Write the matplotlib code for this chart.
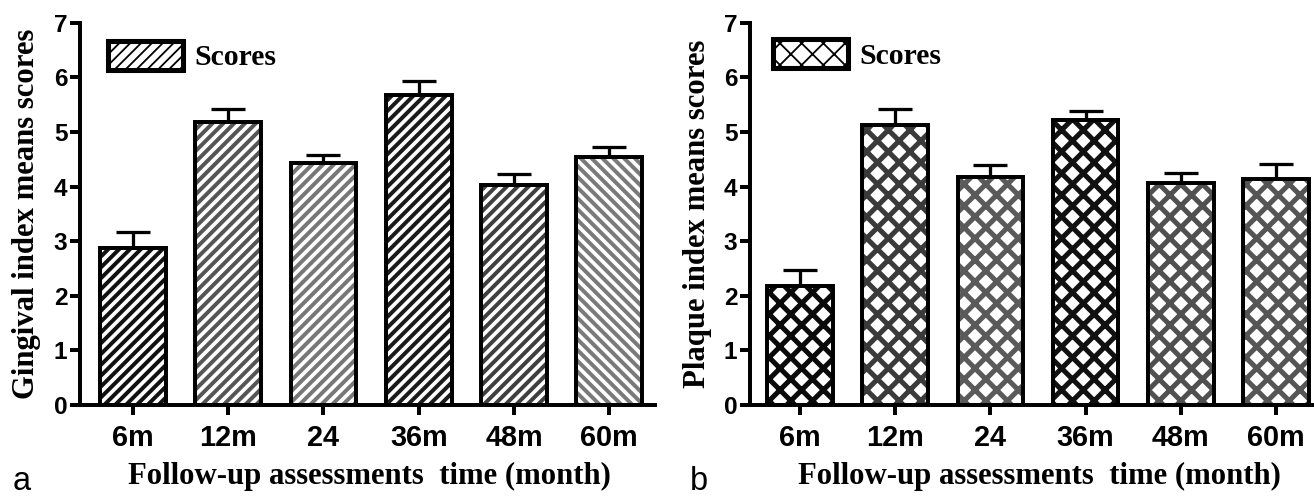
"""
Gingival / plaque index mean scores over follow-up time
Two panels (a) and (b), hatched bars with upper error bars
"""

import matplotlib
matplotlib.use('Agg')
import matplotlib.pyplot as plt
import matplotlib.patches as mpatches
import numpy as np

# ─── DATA ────────────────────────────────────────────────────────────────────
categorias     = ['6m', '12m', '24', '36m', '48m', '60m']
gingival_media = [2.87, 5.18, 4.43, 5.68, 4.03, 4.54]
gingival_err   = [0.30, 0.24, 0.14, 0.25, 0.20, 0.19]
placa_media    = [2.18, 5.12, 4.18, 5.21, 4.07, 4.13]
placa_err      = [0.29, 0.30, 0.22, 0.18, 0.18, 0.29]
y_ticks        = [0, 1, 2, 3, 4, 5, 6, 7]

# ─── STYLE ───────────────────────────────────────────────────────────────────
DPI   = 130
SERIF = 'Liberation Serif'
SANS  = 'Liberation Sans'
LW    = 2.2

colores_a = ['#111111', '#555555', '#777777', '#1a1a1a', '#3f3f3f', '#7a7a7a']
hatch_a   = ['////', '////', '////', '////', '////', '\\\\\\\\']
colores_b = ['#0a0a0a', '#3a3a3a', '#5a5a5a', '#111111', '#505050', '#555555']
hatch_b   = ['xx'] * 6


def panel(fig, rect, xlim, medias, errores, colores, hatches, hatch_lw,
          ylabel, leg_hatch, leg_anchor, xlabel_x, letra, letra_x):
    ax = fig.add_axes(rect)
    x = np.arange(len(categorias))
    ancho = 0.69

    # hatched fill (hatch colour comes from edgecolor)
    with plt.rc_context({'hatch.linewidth': hatch_lw}):
        barras = ax.bar(x, medias, ancho, color='white', edgecolor=colores,
                        hatch=hatches, linewidth=0, zorder=2)
    for b in barras:
        if hasattr(b, 'set_hatch_linewidth'):
            b.set_hatch_linewidth(hatch_lw)

    # upper error bars only
    ax.errorbar(x, medias, yerr=[np.zeros(len(medias)), errores], fmt='none',
                ecolor='black', elinewidth=1.8, capsize=9.5, capthick=1.8, zorder=1)

    # black outline
    ax.bar(x, medias, ancho, fill=False, edgecolor='black', linewidth=LW,
           joinstyle='miter', zorder=3)

    ax.set_xlim(*xlim)
    ax.set_ylim(0, 7)
    ax.set_yticks(y_ticks)
    ax.set_xticks(x)
    ax.set_xticklabels(categorias)

    for s in ['top', 'right']:
        ax.spines[s].set_visible(False)
    for s in ['left', 'bottom']:
        ax.spines[s].set_linewidth(LW)
        ax.spines[s].set_capstyle('projecting')

    ax.tick_params(axis='both', width=LW, length=5.5)
    ax.tick_params(axis='x', pad=5, labelsize=16)
    ax.tick_params(axis='y', pad=1.5, labelsize=13.5)
    for t in ax.get_xticklabels() + ax.get_yticklabels():
        t.set_fontfamily(SANS)
        t.set_fontweight('bold')

    ax.set_ylabel(ylabel, fontfamily=SERIF, fontweight='bold', fontsize=17)
    ax.yaxis.set_label_coords(-0.068, 0.5)
    ax.set_xlabel('Follow-up assessments  time (month)', fontfamily=SERIF,
                  fontweight='bold', fontsize=17)
    ax.xaxis.set_label_coords(xlabel_x, -0.148)

    with plt.rc_context({'hatch.linewidth': hatch_lw}):
        proxy = mpatches.Patch(facecolor='white', edgecolor='black',
                               hatch=leg_hatch, linewidth=2.8)
    if hasattr(proxy, 'set_hatch_linewidth'):
        proxy.set_hatch_linewidth(hatch_lw)
    ax.legend([proxy], ['Scores'], loc='upper left', bbox_to_anchor=leg_anchor,
              frameon=False, borderpad=0, borderaxespad=0, handlelength=2.5,
              handleheight=1.1, handletextpad=0.4,
              prop={'family': SERIF, 'weight': 'bold', 'size': 16.5})

    fig.text(letra_x, 1 - 490 / 502, letra, fontfamily=SANS, fontsize=18,
             va='baseline', ha='left')
    return ax


# ─── FIGURE ──────────────────────────────────────────────────────────────────
if __name__ == '__main__':
    fig = plt.figure(figsize=(1314 / DPI, 502 / DPI), dpi=DPI)

    alto = (405 - 22.7) / 502
    abajo = (502 - 405) / 502

    panel(fig, [80 / 1314, abajo, 575 / 1314, alto], (-0.556, 5.48),
          gingival_media, gingival_err, colores_a, hatch_a, 2.2,
          'Gingival index means scores', '////', (0.049, 0.952), 0.503, 'a', 13 / 1314)

    panel(fig, [750 / 1314, abajo, 564 / 1314, alto], (-0.525, 5.40),
          placa_media, placa_err, colores_b, hatch_b, 2.8,
          'Plaque index means scores', 'xx', (0.041, 0.957), 0.514, 'b', 690 / 1314)

    fig.savefig('out.png', dpi=DPI)
    plt.close(fig)
